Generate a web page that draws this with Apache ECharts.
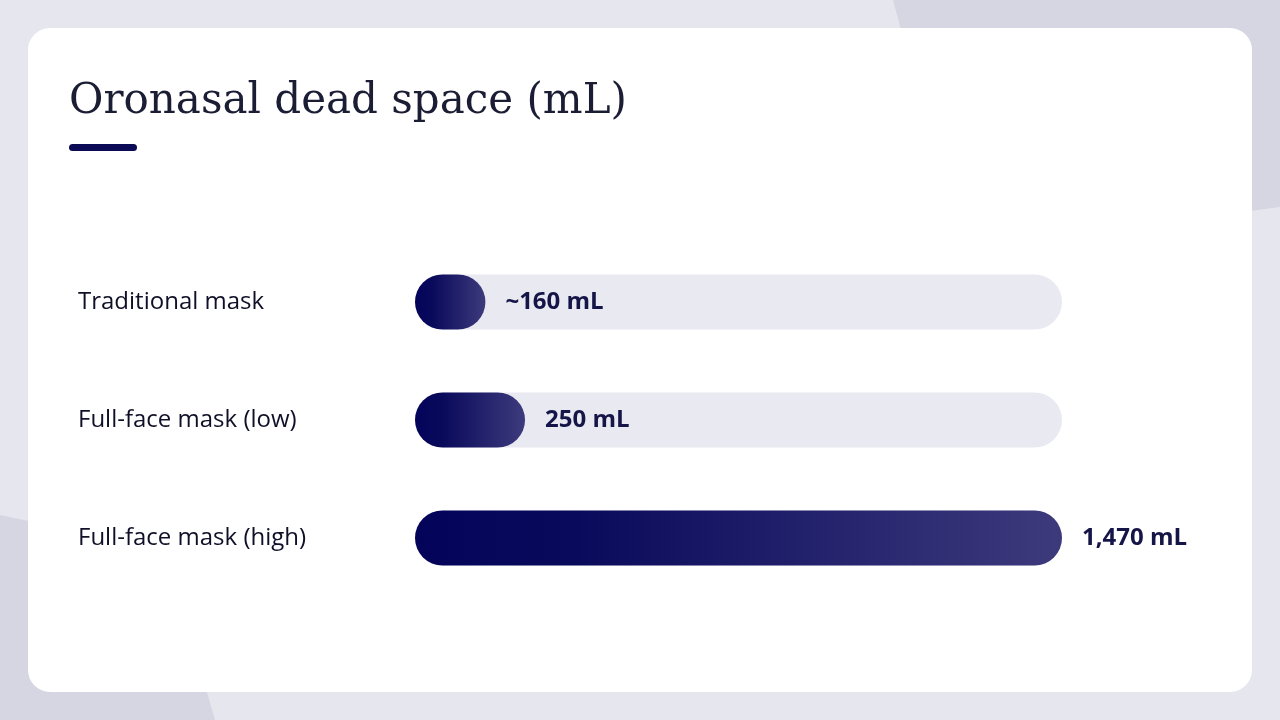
<!DOCTYPE html>
<html>
<head>
<meta charset="utf-8">
<script src="https://cdn.jsdelivr.net/npm/echarts@6/dist/echarts.min.js"></script>
<style>
  html, body { margin: 0; padding: 0; background: #e6e6ee; }
  #chart { width: 1280px; height: 720px; }
</style>
</head>
<body>
<div id="chart"></div>
<script>
// data
var categories = ['Traditional mask', 'Full-face mask (low)', 'Full-face mask (high)'];
var values = [160, 250, 1470];
var valueLabels = ['~160 mL', '250 mL', '1,470 mL'];
var axisMax = 1470;

var barGradient = new echarts.graphic.LinearGradient(0, 0, 1, 0, [
    { offset: 0, color: '#03035a' },
    { offset: 0.25, color: '#0a0a5c' },
    { offset: 1, color: '#3d3a7c' }
]);

var option = {
    backgroundColor: '#e6e6ee',
    animation: false,
    graphic: [
        // background shapes
        { type: 'polygon', z: -10, shape: { points: [[893, 0], [1280, 0], [1280, 207], [960, 250]] }, style: { fill: '#d6d6e2' } },
        { type: 'polygon', z: -10, shape: { points: [[0, 515], [166, 550], [215, 720], [0, 720]] }, style: { fill: '#d6d6e2' } },
        // card
        { type: 'rect', z: -5, shape: { x: 28, y: 28, width: 1224, height: 664, r: 22 }, style: { fill: '#ffffff' } },
        // title
        { type: 'text', left: 69, top: 81, style: { text: 'Oronasal dead space (mL)', font: '400 42px "DejaVu Serif", serif', fill: '#1a1d33' } },
        { type: 'rect', shape: { x: 69, y: 144, width: 68, height: 7, r: 3.5 }, style: { fill: '#0b0b55' } }
    ],
    grid: { left: 415, right: 218, top: 243, bottom: 123, containLabel: false },
    xAxis: {
        type: 'value', min: 0, max: axisMax,
        show: false
    },
    yAxis: {
        type: 'category',
        data: categories,
        inverse: true,
        axisLine: { show: false },
        axisTick: { show: false },
        splitLine: { show: false },
        axisLabel: {
            margin: 337,
            align: 'left',
            padding: [6, 0, 0, 0],
            color: '#0f1028',
            fontFamily: '"Open Sans", sans-serif',
            fontSize: 24,
            fontWeight: 500
        }
    },
    series: [{
        type: 'bar',
        data: values,
        barWidth: 55,
        showBackground: true,
        backgroundStyle: { color: '#e9e9f1', borderRadius: 28 },
        itemStyle: { color: barGradient, borderRadius: 28 },
        label: {
            show: true,
            position: 'right',
            distance: 20,
            padding: [6, 0, 0, 0],
            color: '#151548',
            fontFamily: '"Open Sans", sans-serif',
            fontSize: 24,
            fontWeight: 'bold',
            formatter: function (p) { return valueLabels[p.dataIndex]; }
        }
    }]
};

var chart = echarts.init(document.getElementById('chart'));
chart.setOption(option);
</script>
</body>
</html>
